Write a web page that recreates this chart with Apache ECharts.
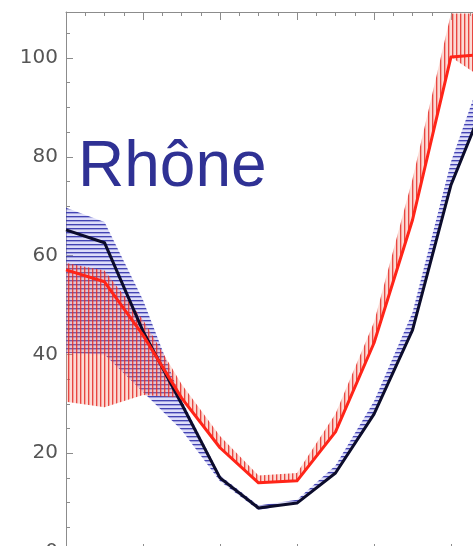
<!DOCTYPE html>
<html>
<head>
<meta charset="utf-8">
<script src="https://cdn.jsdelivr.net/npm/echarts@6/dist/echarts.min.js"></script>
<style>
  html, body { margin: 0; padding: 0; background: #ffffff; }
  #chart { width: 473px; height: 546px; }
</style>
</head>
<body>
<div id="chart"></div>
<script>
// Monthly categories (x axis)
const months = ['Jan', 'Feb', 'Mar', 'Apr', 'May', 'Jun', 'Jul', 'Aug', 'Sep', 'Oct', 'Nov', 'Dec'];

// Black curve and its spread (blue horizontal hatching)
const blackLine = [65.2, 62.6, 44.7, 30.0, 15.0, 8.9, 9.9, 16.0, 27.9, 44.9, 74.3, 93.5];
const blueLow   = [40.3, 40.0, 32.4, 24.7, 14.3, 8.5, 9.9, 16.0, 27.9, 44.9, 74.3, 93.5];
const blueHigh  = [69.7, 66.8, 51.0, 30.8, 15.5, 9.4, 10.6, 17.5, 30.5, 48.5, 79.0, 101.0];

// Red curve and its spread (red vertical hatching)
const redLine = [57.1, 54.7, 43.9, 31.2, 21.1, 14.0, 14.4, 24.3, 42.3, 67.2, 100.2, 100.8];
const redLow  = [30.4, 29.3, 31.8, 31.2, 21.1, 14.0, 14.4, 24.3, 42.3, 67.2, 100.2, 95.0];
const redHigh = [58.5, 57.0, 47.0, 34.0, 23.5, 15.5, 16.0, 28.0, 46.5, 75.5, 109.0, 109.0];

// Y axis range and tick steps
const yMin = 0, yMax = 109.3, yMajor = 20, yMinor = 5;
const xMax = months.length - 1;

const AXIS_GREY = '#8c8c8c';

function makePattern(size, draw) {
  const c = document.createElement('canvas');
  c.width = size; c.height = size;
  draw(c.getContext('2d'), size);
  return { image: c, repeat: 'repeat' };
}

// horizontal blue lines
const bluePattern = makePattern(4, (g, s) => {
  g.fillStyle = 'rgba(150,150,235,0.32)';
  g.fillRect(0, 0, s, s);
  g.fillStyle = 'rgba(45,45,170,0.88)';
  g.fillRect(0, 0, s, 1);
  g.fillStyle = 'rgba(45,45,170,0.32)';
  g.fillRect(0, 1, s, 1);
});

// vertical red lines
const redPattern = makePattern(4, (g, s) => {
  g.fillStyle = 'rgba(245,140,120,0.32)';
  g.fillRect(0, 0, s, s);
  g.fillStyle = 'rgba(228,45,40,0.85)';
  g.fillRect(0, 0, 1, s);
  g.fillStyle = 'rgba(228,45,40,0.30)';
  g.fillRect(1, 0, 1, s);
});

const diff = (hi, lo) => hi.map((v, i) => +(v - lo[i]).toFixed(2));

function bandSeries(name, stackId, low, high, pattern) {
  return [
    {
      name: name + '-base', type: 'line', stack: stackId, data: low,
      symbol: 'none', silent: true, lineStyle: { opacity: 0 }, z: 1
    },
    {
      name: name, type: 'line', stack: stackId, data: diff(high, low),
      symbol: 'none', silent: true, lineStyle: { opacity: 0 },
      areaStyle: { color: pattern, opacity: 1 }, z: 1
    }
  ];
}

function tickAxis(position, interval, len, showLine) {
  return {
    type: 'value', position: position, min: 0, max: xMax, interval: interval,
    axisLine: { show: showLine, lineStyle: { color: AXIS_GREY, width: 1 } },
    axisTick: { show: true, inside: true, length: len, lineStyle: { color: AXIS_GREY, width: 1 } },
    axisLabel: { show: false }, splitLine: { show: false }
  };
}

const chart = echarts.init(document.getElementById('chart'), null, { renderer: 'canvas' });

chart.setOption({
  animation: false,
  backgroundColor: '#ffffff',
  grid: { left: 66, top: 12, width: 423.5, height: 540, containLabel: false, outerBoundsMode: 'none' },
  xAxis: [
    { type: 'category', data: months, boundaryGap: false, position: 'bottom', show: false },
    tickAxis('bottom', 0.5, 4, true),
    tickAxis('bottom', 2, 8, false),
    tickAxis('top', 0.5, 4, true),
    tickAxis('top', 2, 8, false)
  ],
  yAxis: [
    {
      type: 'value', position: 'left', min: yMin, max: yMax, interval: yMinor,
      axisLine: { show: true, lineStyle: { color: AXIS_GREY, width: 1 } },
      axisTick: { show: true, inside: true, length: 4, lineStyle: { color: AXIS_GREY } },
      axisLabel: {
        show: true, margin: 8, color: '#555555',
        fontFamily: 'DejaVu Sans', fontSize: 20, padding: [6, 0, 0, 0],
        formatter: v => (Math.abs(v % yMajor) < 1e-6 ? String(Math.round(v)) : '')
      },
      splitLine: { show: false }
    },
    {
      type: 'value', position: 'left', min: yMin, max: yMax, interval: yMajor,
      axisLine: { show: false },
      axisTick: { show: true, inside: true, length: 7, lineStyle: { color: AXIS_GREY } },
      axisLabel: { show: false }, splitLine: { show: false }
    }
  ],
  series: [
    ...bandSeries('blue band', 'blue', blueLow, blueHigh, bluePattern),
    ...bandSeries('red band', 'red', redLow, redHigh, redPattern),
    {
      name: 'black', type: 'line', data: blackLine, symbol: 'none', z: 5,
      lineStyle: { color: '#0c0c2c', width: 3, join: 'round' }
    },
    {
      name: 'red', type: 'line', data: redLine, symbol: 'none', z: 6,
      lineStyle: { color: '#ff2418', width: 3, join: 'round' }
    }
  ],
  graphic: [
    {
      type: 'text', x: 78, y: 168, z: 100,
      style: {
        text: 'Rhône', font: '64px "Liberation Sans", Arial, sans-serif',
        fill: '#2f3194', verticalAlign: 'middle'
      }
    }
  ]
});
</script>
</body>
</html>
